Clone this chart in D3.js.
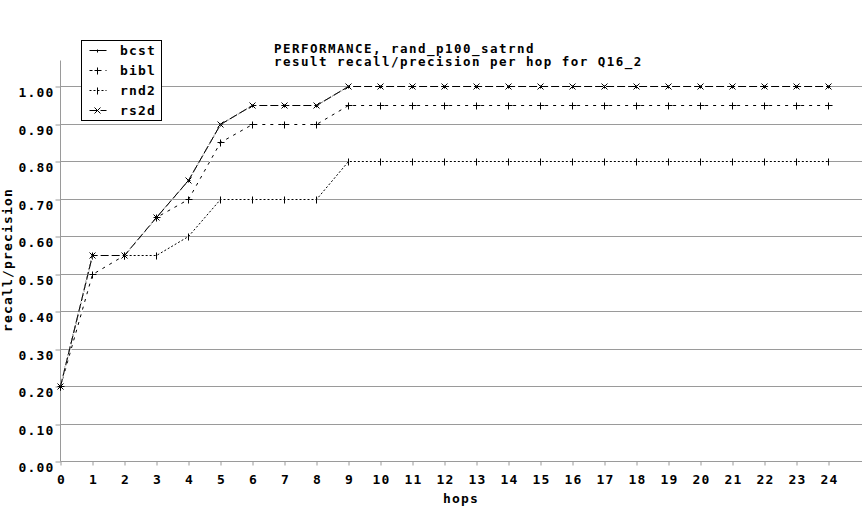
<!DOCTYPE html>
<html><head><meta charset="utf-8">
<script src="https://cdn.jsdelivr.net/npm/d3@7"></script>
<style>
html,body{margin:0;padding:0;background:#fff;}
svg{display:block;}
text{font-family:"DejaVu Sans Mono",monospace;font-size:13px;font-weight:bold;letter-spacing:1.17px;fill:#000;}
text.title{font-size:12.5px;letter-spacing:1.47px;}
</style></head><body>
<svg id="c" width="862" height="520"></svg>
<script>
// ---- data ----
const hops = [0,1,2,3,4,5,6,7,8,9,10,11,12,13,14,15,16,17,18,19,20,21,22,23,24];
const yTicks = [0.0,0.1,0.2,0.3,0.4,0.5,0.6,0.7,0.8,0.9,1.0];
const bcst = [0.20,0.55,0.55,0.65,0.75,0.90,0.95,0.95,0.95,1.00,1.00,1.00,1.00,1.00,1.00,1.00,1.00,1.00,1.00,1.00,1.00,1.00,1.00,1.00,1.00];
const bibl = [0.20,0.50,0.55,0.65,0.70,0.85,0.90,0.90,0.90,0.95,0.95,0.95,0.95,0.95,0.95,0.95,0.95,0.95,0.95,0.95,0.95,0.95,0.95,0.95,0.95];
const rnd2 = [0.20,0.55,0.55,0.55,0.60,0.70,0.70,0.70,0.70,0.80,0.80,0.80,0.80,0.80,0.80,0.80,0.80,0.80,0.80,0.80,0.80,0.80,0.80,0.80,0.80];
const rs2d = [0.20,0.55,0.55,0.65,0.75,0.90,0.95,0.95,0.95,1.00,1.00,1.00,1.00,1.00,1.00,1.00,1.00,1.00,1.00,1.00,1.00,1.00,1.00,1.00,1.00];
const seriesNames = ["bcst","bibl","rnd2","rs2d"];
const titleLines = ["PERFORMANCE, rand_p100_satrnd","result recall/precision per hop for Q16_2"];
const xTitle = "hops";
const yTitle = "recall/precision";

// ---- styles ----
const styles = {
  bcst:{dash:null, marker:"dot"},
  bibl:{dash:"3,5", marker:"plus"},
  rnd2:{dash:"2,2", marker:"vbar"},
  rs2d:{dash:"8,3", marker:"cross"}
};
const seriesData = {bcst, bibl, rnd2, rs2d};

const svg = d3.select("#c");
const x = d3.scaleLinear().domain([0,24]).range([60,828]).interpolate(d3.interpolateRound);
const y = d3.scaleLinear().domain([0,1]).range([461,86]).interpolate(d3.interpolateRound);
const gridColor = "#9a9a9a";
const g = svg.append("g").attr("transform","translate(0.5,0.5)");

// grid lines
g.append("g").selectAll("line").data(yTicks.filter(d=>d>0)).join("line")
  .attr("x1",60).attr("x2",862).attr("y1",d=>y(d)).attr("y2",d=>y(d))
  .attr("stroke",gridColor).attr("stroke-width",1);

// y axis
const ya = g.append("g").attr("transform","translate(60,0)")
  .call(d3.axisLeft(y).tickValues(yTicks).tickFormat(d3.format(".2f")).tickSize(5).tickSizeOuter(0));
ya.select(".domain").remove();
ya.selectAll(".tick line").attr("stroke",gridColor);
ya.selectAll(".tick text").attr("x",-6).attr("dy",null).attr("y",9.5);
ya.attr("font-family",null).attr("font-size",null);
g.append("line").attr("x1",60).attr("x2",60).attr("y1",60).attr("y2",y(0)).attr("stroke",gridColor);

// x axis
const xa = g.append("g").attr("transform",`translate(0,${y(0)})`)
  .call(d3.axisBottom(x).tickValues(hops).tickFormat(d=>String(d)).tickSize(4).tickSizeOuter(0));
xa.select(".domain").remove();
xa.selectAll(".tick line").attr("stroke",gridColor);
xa.selectAll(".tick text").attr("y",22.5).attr("dy",null).attr("dx",0.6);
xa.attr("font-family",null).attr("font-size",null);
g.append("line").attr("x1",60).attr("x2",862).attr("y1",y(0)).attr("y2",y(0)).attr("stroke",gridColor);

function markerPath(type,cx,cy){
  if(type==="plus") return `M${cx-3},${cy}h7M${cx},${cy-3}v7`;
  if(type==="vbar") return `M${cx},${cy-3}v7`;
  if(type==="cross") return `M${cx-3},${cy-3}l6,6M${cx-3},${cy+3}l6,-6`;
  return `M${cx-1},${cy}h3M${cx},${cy-1}v3`;
}

const line = d3.line().x((d,i)=>x(hops[i])).y(d=>y(d));
seriesNames.forEach(name=>{
  const st = styles[name], vals = seriesData[name];
  const sg = g.append("g");
  if(st.dash){
    sg.append("path").attr("d",line(vals)).attr("fill","none").attr("stroke","#fff").attr("stroke-width",1);
  }
  sg.append("path").attr("d",line(vals)).attr("fill","none").attr("stroke","#000").attr("stroke-width",1)
    .attr("stroke-dasharray",st.dash);
  sg.selectAll("path.m").data(vals).join("path").attr("class","m")
    .attr("d",(d,i)=>markerPath(st.marker,x(hops[i]),y(d)))
    .attr("fill","none").attr("stroke","#000").attr("stroke-width",1);
});

// legend
const lg = g.append("g");
lg.append("rect").attr("x",81).attr("y",40).attr("width",80).attr("height",80)
  .attr("fill","#fff").attr("stroke","#000");
seriesNames.forEach((name,i)=>{
  const st = styles[name];
  const cy = 50 + i*20;
  if(st.dash) lg.append("line").attr("x1",89).attr("x2",106).attr("y1",cy).attr("y2",cy).attr("stroke","#fff");
  lg.append("line").attr("x1",89).attr("x2",106).attr("y1",cy).attr("y2",cy)
    .attr("stroke","#000").attr("stroke-dasharray",st.dash);
  lg.append("path").attr("d",markerPath(st.marker,97,cy)).attr("fill","none").attr("stroke","#000");
  lg.append("text").attr("x",119.5).attr("y",cy+4.5).text(name);
});

// titles
svg.append("text").attr("class","title").attr("x",274).attr("y",52.5).text(titleLines[0]);
svg.append("text").attr("class","title").attr("x",274).attr("y",66).text(titleLines[1]);
svg.append("text").attr("x",461).attr("y",503).attr("text-anchor","middle").text(xTitle);
svg.append("text").attr("transform","translate(12,260) rotate(-90)").attr("text-anchor","middle").text(yTitle);
</script>
</body></html>
